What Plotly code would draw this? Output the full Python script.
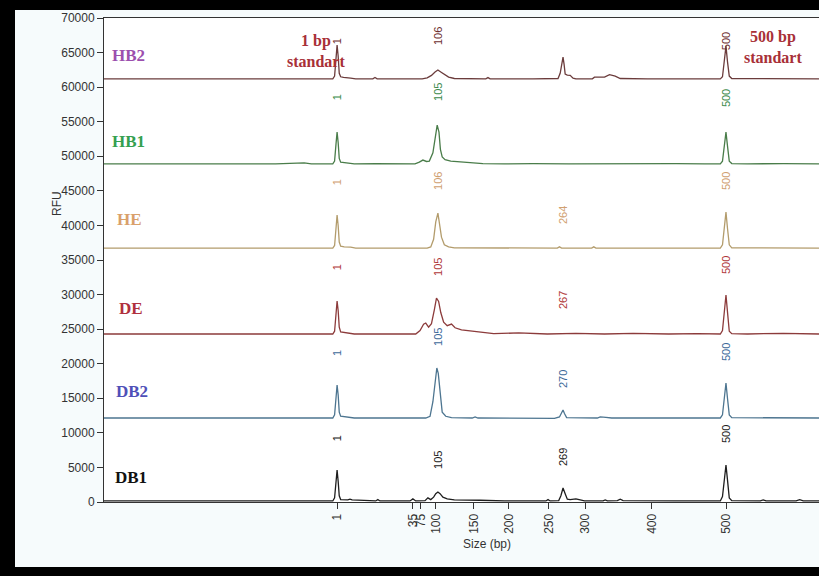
import plotly.graph_objects as go

# ---------------- data (scan position vs RFU) ----------------
HB2_x = [0, 60, 120, 200, 280, 320, 322.5, 324.5, 326, 327.5, 329, 331, 335, 345, 352, 376, 379, 382, 420,
         445, 452, 458, 463, 467, 471, 476, 482, 490, 510, 534, 537, 540, 600, 635, 638, 640.5, 642, 643.5, 645,
         648, 652, 656, 660, 683, 686, 700, 707, 715, 722, 760, 820, 862, 865, 867.5, 869.9, 872, 874.5, 878,
         920, 1000]
HB2_y = [61200, 61200, 61200, 61250, 61200, 61200, 61600, 64000, 66080, 64500, 62000, 61500, 61400, 61300, 61200,
         61200, 61400, 61200, 61200, 61200, 61350, 61700, 62200, 62470, 62200, 61800, 61450, 61250, 61200, 61200,
         61380, 61200, 61200, 61250, 62000, 63800, 64350, 63300, 61900, 61750, 61700, 61300, 61200, 61200, 61450,
         61450, 61800, 61600, 61250, 61200, 61200, 61200, 61500, 63500, 65940, 63700, 61600, 61250, 61200, 61200]

HB1_x = [0, 60, 150, 240, 280, 285, 290, 320, 322.5, 324.5, 326, 327.5, 329, 331, 340, 350, 380, 420, 435, 441,
         446, 451, 455, 460, 463, 466, 468.5, 470.5, 473, 477, 485, 495, 510, 530, 560, 600, 650, 700, 750, 800,
         840, 862, 865, 867.5, 869.9, 872, 874.5, 878, 900, 950, 1000]
HB1_y = [48900, 48900, 48950, 48900, 49050, 48950, 48900, 48900, 49300, 51800, 53500, 52000, 49700, 49150, 49050,
         48900, 48950, 48900, 48900, 49150, 49450, 49250, 49300, 50500, 52500, 54500, 53500, 51000, 49900, 49500,
         49300, 49200, 49050, 48950, 48900, 48950, 48900, 48950, 48900, 48950, 48900, 48900, 49300, 51800, 53500,
         51500, 49300, 48950, 48900, 48950, 48900]

HE_x = [0, 100, 200, 320, 322.5, 324.5, 326, 327.5, 329, 331, 336, 345, 352, 452, 457, 461, 464, 467, 469.5, 472,
        476, 482, 490, 600, 634, 637, 640, 682, 685, 688, 800, 862, 865, 867.5, 869.9, 872, 874.5, 878, 1000]
HE_y = [36730, 36730, 36730, 36730, 37100, 39800, 41500, 40000, 37600, 37000, 36900, 36850, 36730, 36730, 36900,
        38000, 40500, 41790, 40300, 38300, 37200, 36900, 36750, 36730, 36730, 36900, 36730, 36730, 36900, 36730,
        36730, 36730, 37200, 39800, 41930, 39600, 37200, 36760, 36730]

DE_x = [0, 80, 160, 240, 300, 320, 322.5, 324.5, 326, 327.5, 329, 331, 338, 350, 436, 442, 447, 450, 454, 458,
        462, 465, 468, 471, 475, 480, 486, 491, 500, 515, 530, 545, 580, 620, 660, 700, 740, 790, 830, 862, 865,
        867.5, 869.9, 872, 874.5, 878, 900, 950, 1000]
DE_y = [24300, 24300, 24350, 24300, 24300, 24300, 24700, 27500, 29060, 27700, 25300, 24600, 24450, 24300, 24300,
        24800, 25700, 25880, 25300, 25800, 27800, 29500, 29000, 27400, 26000, 25500, 25740, 25200, 24900, 24700,
        24500, 24350, 24450, 24300, 24400, 24300, 24400, 24300, 24350, 24300, 24800, 27600, 29930, 27500, 24700,
        24350, 24300, 24400, 24300]

DB2_x = [0, 100, 200, 320, 322.5, 324.5, 326, 327.5, 329, 331, 340, 350, 450, 456, 460, 463, 465.5, 467.5, 470,
         473, 478, 486, 515, 519, 523, 600, 630, 637, 640, 642, 644, 647, 690, 694, 702, 710, 800, 862, 865, 867.5,
         869.9, 872, 874.5, 878, 1000]
DB2_y = [12150, 12150, 12150, 12150, 12600, 15300, 16920, 15500, 13000, 12400, 12250, 12150, 12150, 12400, 14500,
         17500, 19380, 18600, 15500, 13000, 12400, 12200, 12150, 12300, 12150, 12150, 12100, 12300, 13000, 13300,
         12800, 12200, 12150, 12300, 12250, 12150, 12150, 12150, 12600, 15200, 17210, 15000, 12600, 12200, 12150]

DB1_x = [0, 100, 200, 300, 320, 322.5, 324.5, 326, 327.5, 329, 331, 336, 341, 344, 347, 380, 383, 386, 428, 432,
         436, 449, 453, 457, 461, 464, 467, 470, 474, 480, 490, 526, 560, 618, 621, 624, 636, 639, 642, 645, 648,
         652, 660, 666, 672, 698, 701, 704, 718, 722, 726, 800, 862, 865, 867.5, 869.9, 872, 874.5, 878, 918, 922,
         926, 968, 973, 978, 1000]
DB1_y = [150, 150, 150, 150, 150, 600, 3200, 4630, 3000, 900, 350, 300, 320, 420, 300, 150, 350, 150, 150, 450,
         150, 200, 600, 350, 700, 1200, 1450, 1200, 700, 450, 300, 250, 150, 150, 350, 150, 200, 900, 2020, 1200,
         400, 350, 450, 300, 150, 150, 300, 150, 200, 400, 200, 150, 150, 800, 3600, 5350, 3200, 600, 200, 150,
         300, 150, 150, 350, 150, 150]

samples = ["HB2", "HB1", "HE", "DE", "DB2", "DB1"]
series_x = [HB2_x, HB1_x, HE_x, DE_x, DB2_x, DB1_x]
series_y = [HB2_y, HB1_y, HE_y, DE_y, DB2_y, DB1_y]

# sizes called above the peaks of each sample
peak_scan = [326, 467, 642, 870]
peak_calls = {
    "HB2": ["1", "106", None, "500"],
    "HB1": ["1", "105", None, "500"],
    "HE": ["1", "106", "264", "500"],
    "DE": ["1", "105", "267", "500"],
    "DB2": ["1", "105", "270", "500"],
    "DB1": ["1", "105", "269", "500"],
}

# size ticks (bp) and their scan positions
size_tick_labels = ["1", "35", "75", "100", "150", "200", "250", "300", "400", "500"]
size_tick_scan = [326, 432, 443, 464, 517, 566, 622, 673, 766, 870]

y_ticks = [0, 5000, 10000, 15000, 20000, 25000, 30000, 35000, 40000, 45000, 50000, 55000, 60000, 65000, 70000]
y_tick_labels = [str(v) for v in y_ticks]

# ---------------- styles / placement ----------------
line_colors = {"HB2": "#6b3c3c", "HB1": "#4a7d4a", "HE": "#b39c6c", "DE": "#8c3b3b", "DB2": "#4d7590", "DB1": "#1e1e1e"}
name_colors = {"HB2": "#9c4fae", "HB1": "#35a050", "HE": "#d9a06a", "DE": "#b0303e", "DB2": "#4f50b8", "DB1": "#111111"}
call_colors = {"HB2": "#6e3030", "HB1": "#3b8a4a", "HE": "#d0a070", "DE": "#b0383a", "DB2": "#3d6a9a", "DB1": "#222222"}
name_pos = {"HB2": (8, 64640), "HB1": (8, 52200), "HE": (15, 40920), "DE": (18, 28050), "DB2": (14, 16050), "DB1": (13, 3615)}
call_y = {
    "HB2": [66660, 67380, None, 66660],
    "HB1": [58560, 59290, None, 58420],
    "HE": [46270, 46420, 41500, 46420],
    "DE": [33980, 33980, 29210, 34270],
    "DB2": [21545, 23860, 17790, 21690],
    "DB1": [9250, 6070, 6510, 9830],
}

# window 819x576; black frame: left 15px, top 10px, bottom 9px; figure sits inside it
WIN_W, WIN_H = 819, 576
FL, FT, FB = 15, 10, 9
W, H = WIN_W - FL, WIN_H - FT - FB
PLOT_L, PLOT_T, PLOT_B = 104, 18, 502          # plot area in window pixels
L, T, B = PLOT_L - FL, PLOT_T - FT, (WIN_H - FB) - PLOT_B
PW, PH = WIN_W - PLOT_L, PLOT_B - PLOT_T


def px(xp):
    return (xp - PLOT_L) / PW


def py(yp):
    return (PLOT_B - yp) / PH


fig = go.Figure()
for s, xs, ys in zip(samples, series_x, series_y):
    fig.add_trace(go.Scatter(x=xs, y=ys, mode="lines", line=dict(color=line_colors[s], width=1.3),
                             name=s, showlegend=False, hoverinfo="skip"))

ann = []
serif = "Liberation Serif, Times New Roman, serif"
for s in samples:
    xn, yn = name_pos[s]
    ann.append(dict(x=xn, y=yn, text="<b>%s</b>" % s, showarrow=False, xanchor="left", yanchor="middle",
                    font=dict(family=serif, size=17, color=name_colors[s])))
    for k, lab in enumerate(peak_calls[s]):
        if lab is None:
            continue
        ann.append(dict(x=peak_scan[k], y=call_y[s][k], text=lab, textangle=-90, showarrow=False,
                        xanchor="center", yanchor="middle",
                        font=dict(family="Liberation Sans, Arial", size=11, color=call_colors[s])))

ann.append(dict(x=296, y=65290, text="<b>1 bp<br>standart</b>", showarrow=False, xanchor="center", yanchor="middle",
                font=dict(family=serif, size=16, color="#a83038")))
ann.append(dict(x=936, y=65860, text="<b>500 bp<br>standart</b>", showarrow=False, xanchor="center", yanchor="middle",
                font=dict(family=serif, size=16, color="#a83038")))
ann.append(dict(xref="paper", yref="paper", x=px(48), y=py(203), text="RFU", textangle=-90, showarrow=False,
                font=dict(family="Liberation Sans, Arial", size=12, color="#333")))
ann.append(dict(xref="paper", yref="paper", x=px(487), y=py(553), text="Size (bp)", showarrow=False,
                font=dict(family="Liberation Sans, Arial", size=12, color="#333")))

fig.update_layout(
    width=W, height=H,
    margin=dict(l=L, r=0, t=T, b=B, pad=0),
    paper_bgcolor="#f6fbfc", plot_bgcolor="white",
    annotations=ann,
    font=dict(family="Liberation Sans, Arial", size=12, color="#333"),
)
fig.update_xaxes(range=[0, 1000], tickmode="array", tickvals=size_tick_scan, ticktext=size_tick_labels,
                 tickangle=-90, ticks="outside", ticklen=6, tickcolor="#333", showgrid=False, zeroline=False,
                 showline=True, linecolor="#333", linewidth=1, mirror=True,
                 tickfont=dict(size=12, color="#333"))
fig.update_yaxes(range=[0, 70000], tickmode="array", tickvals=y_ticks, ticktext=y_tick_labels,
                 ticks="outside", ticklen=6, tickcolor="#333",
                 showgrid=False, zeroline=False, showline=True, linecolor="#333", linewidth=1,
                 tickfont=dict(size=12, color="#333"))

post = (
    "document.documentElement.style.background='#000';"
    "document.body.style.background='#000';"
    "document.body.style.margin='0';"
    "document.body.style.overflow='hidden';"
    "var gd=document.getElementById('{plot_id}');"
    "gd.style.position='absolute';gd.style.left='%dpx';gd.style.top='%dpx';" % (FL, FT)
)
fig.write_html("out.html", config={"displayModeBar": False}, post_script=post)
